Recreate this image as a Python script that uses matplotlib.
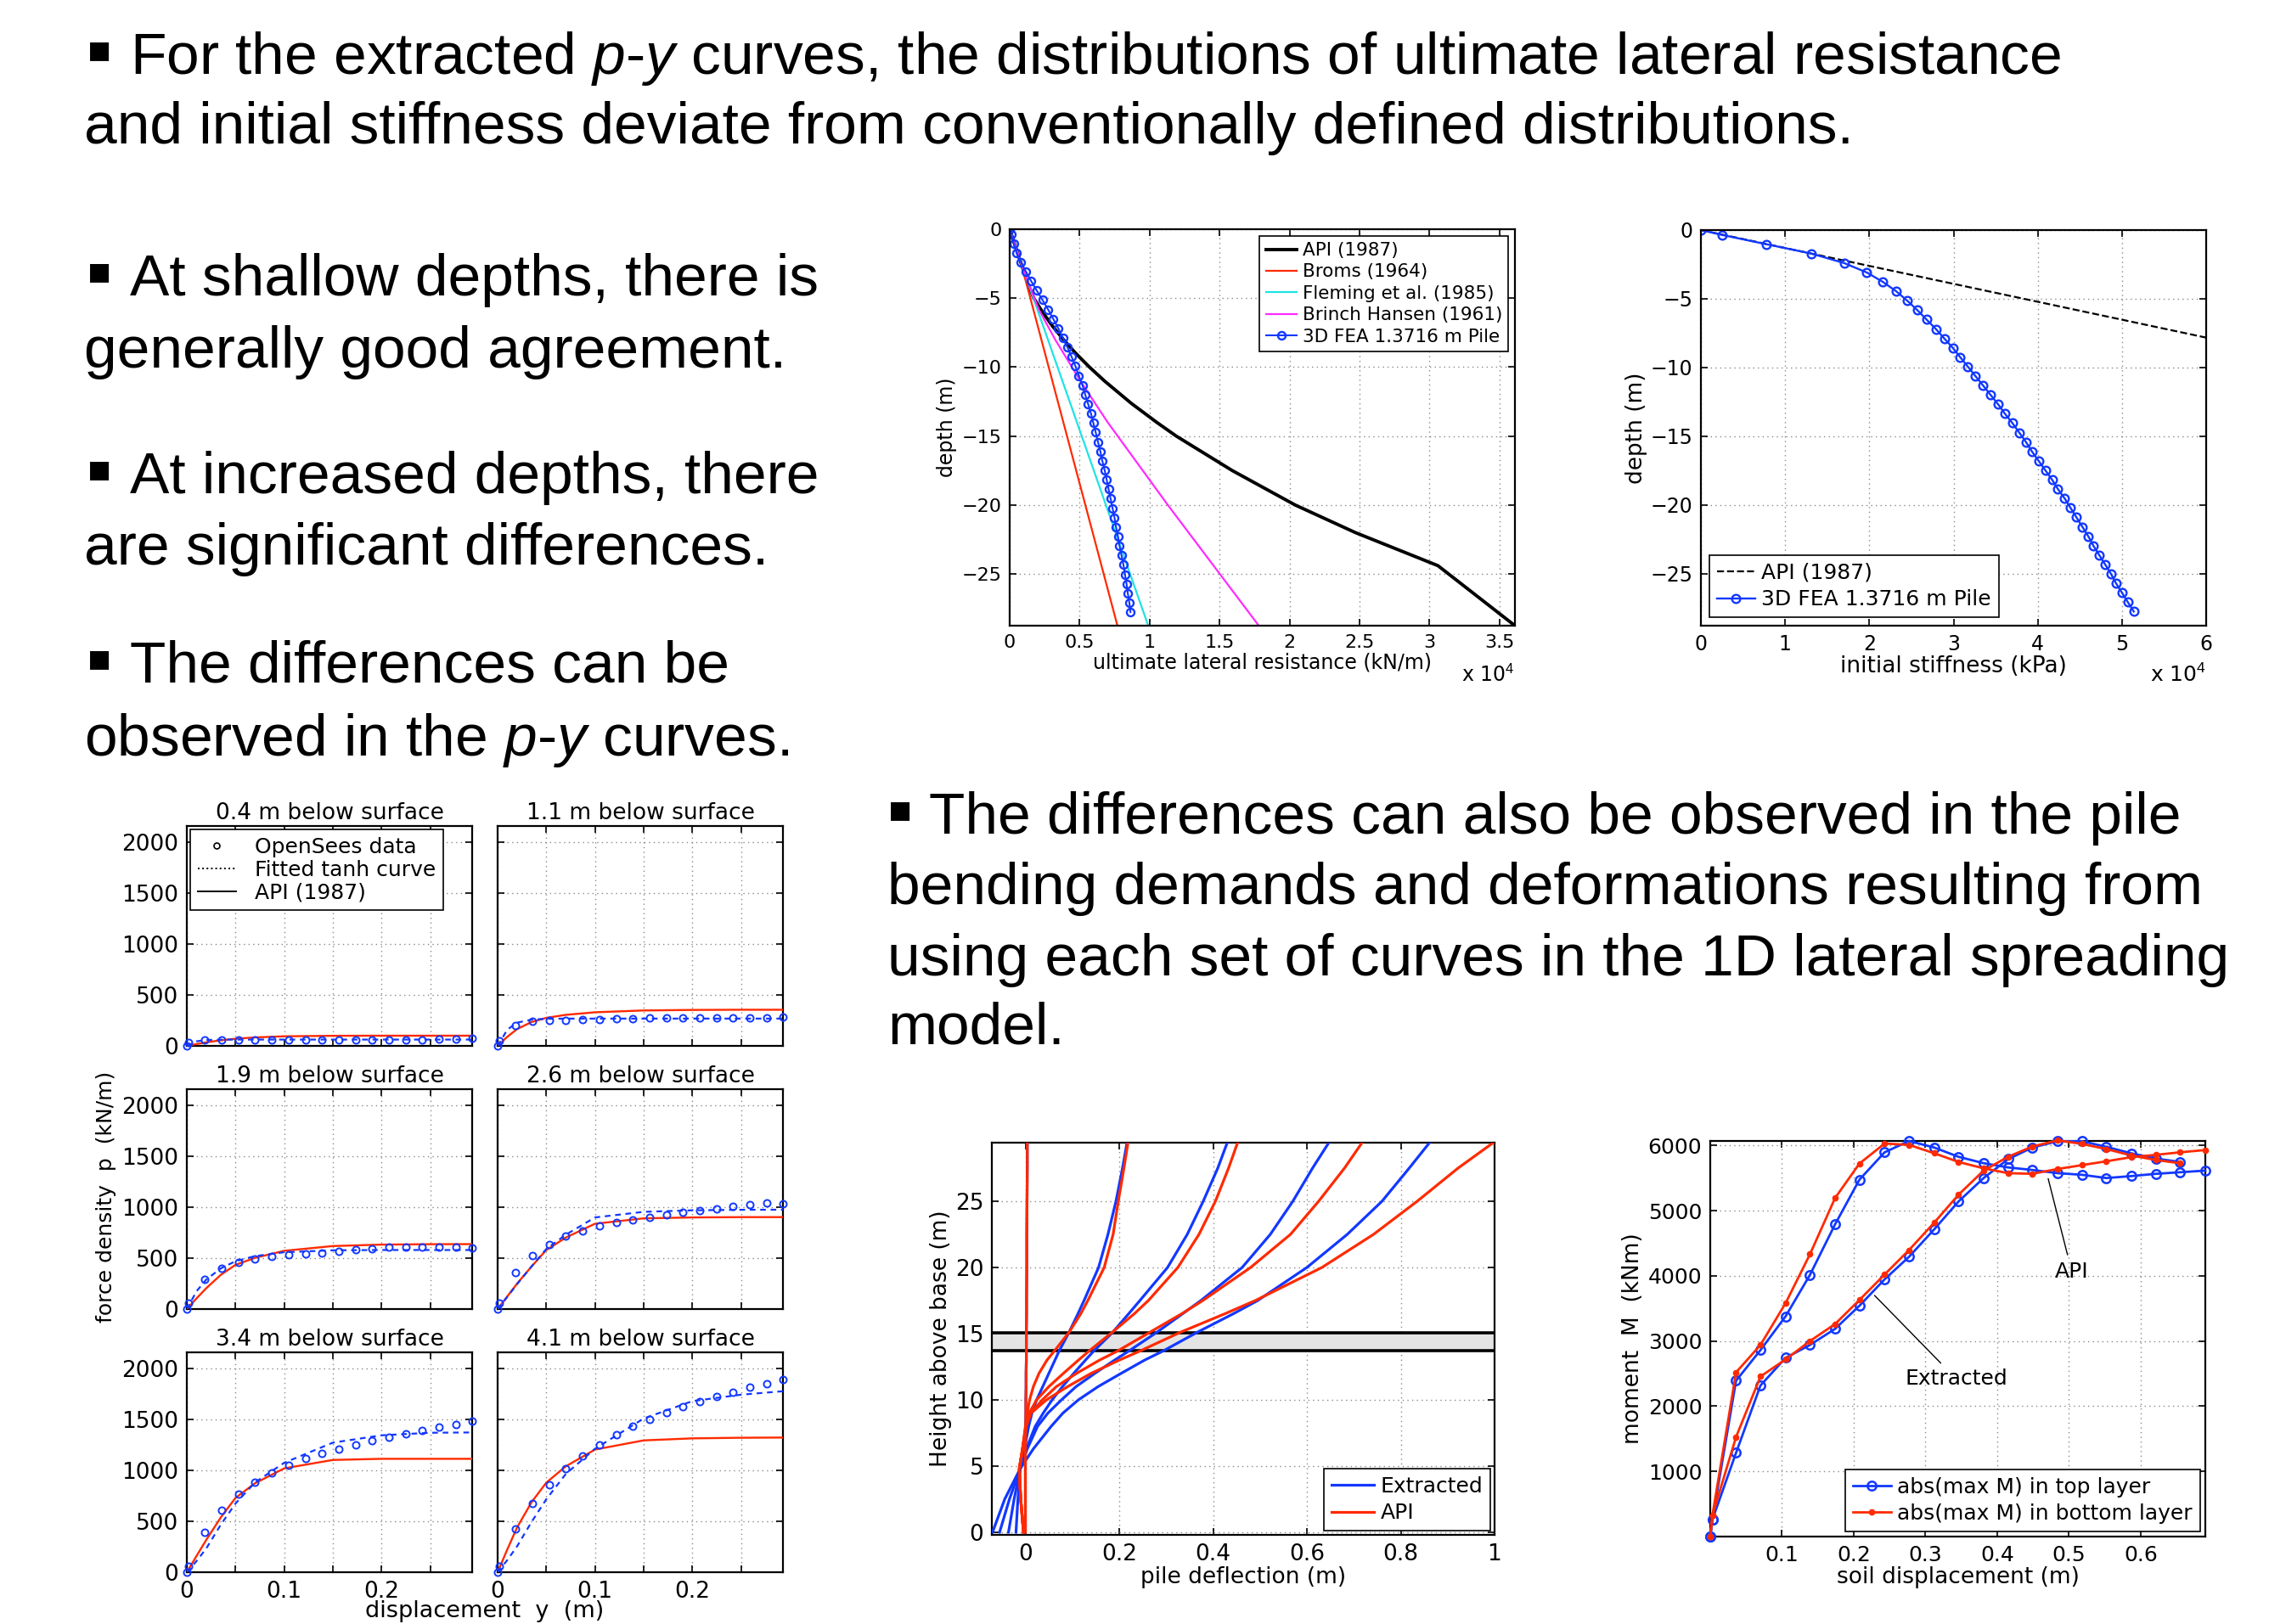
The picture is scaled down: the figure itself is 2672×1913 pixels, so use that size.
import matplotlib
matplotlib.use('Agg')
import matplotlib.pyplot as plt
from matplotlib.lines import Line2D
from matplotlib.ticker import FuncFormatter

plt.rcParams['font.family'] = ['DejaVu Sans']
plt.rcParams['mathtext.fontset'] = 'custom'
plt.rcParams['mathtext.rm'] = 'Liberation Sans'
plt.rcParams['mathtext.it'] = 'Liberation Sans:italic'

# ---------------- data ----------------
# ultimate lateral resistance vs depth (kN/m, m)
fea_depth = [0, -0.35, -1.03, -1.71, -2.40, -3.09, -3.77, -4.46, -5.14, -5.83, -6.52, -7.20, -7.89, -8.57,
             -9.26, -9.94, -10.63, -11.31, -12.00, -12.69, -13.37, -14.06, -14.74, -15.43, -16.11, -16.80,
             -17.49, -18.17, -18.86, -19.54, -20.23, -20.92, -21.60, -22.29, -22.97, -23.66, -24.34, -25.03,
             -25.72, -26.40, -27.09, -27.77]
fea_pult = [0, 120, 280, 490, 810, 1170, 1540, 1940, 2350, 2750, 3120, 3480, 3810, 4130, 4430, 4700, 4940,
            5200, 5400, 5610, 5810, 5980, 6150, 6310, 6480, 6620, 6790, 6930, 7070, 7210, 7350, 7490, 7600,
            7740, 7850, 7990, 8130, 8240, 8350, 8440, 8550, 8630]
api_pult_depth = [0, -2, -4, -5, -6, -7, -8, -9, -10, -11, -12.62, -14, -15, -17.5, -20, -22, -24.4, -28.75]
api_pult = [0, 660, 1320, 1720, 2340, 3040, 3840, 4720, 5700, 6770, 8680, 10500, 11900, 15900, 20400,
            24700, 30600, 36100]
broms_depth = [0, -2.38, -28.75]
broms_pult = [0, 790, 7700]
fleming_depth = [0, -2.38, -28.75]
fleming_pult = [0, 790, 9900]
hansen_depth = [0, -2.38, -4, -5.86, -8, -11, -14, -20, -28.75]
hansen_pult = [0, 790, 1370, 2100, 3250, 5050, 7000, 11300, 17800]

# initial stiffness vs depth (kPa, m)
fea_k = [0, 2480, 7760, 13100, 17000, 19700, 21600, 23200, 24500, 25700, 26800, 27900, 28900, 29900, 30800,
         31700, 32600, 33500, 34400, 35300, 36100, 37000, 37800, 38600, 39300, 40100, 40900, 41700, 42400,
         43200, 43900, 44600, 45300, 46000, 46600, 47300, 48000, 48700, 49300, 50000, 50700, 51400]
api_k_depth = [0, -7.83]
api_k = [0, 60000]

# p-y curves (m, kN/m)
py_titles = ['0.4 m below surface', '1.1 m below surface', '1.9 m below surface',
             '2.6 m below surface', '3.4 m below surface', '4.1 m below surface']
py_y_pts = [0, 0.002, 0.0187, 0.0359, 0.053, 0.070, 0.0874, 0.1046, 0.1217, 0.1389, 0.156, 0.1732,
            0.1904, 0.2075, 0.2247, 0.2418, 0.259, 0.2762, 0.2933]
py_y_curve = [0, 0.01, 0.02, 0.035, 0.05, 0.07, 0.1, 0.15, 0.2, 0.25, 0.293]
opensees_04 = [0, 35, 62, 58, 60, 60, 62, 62, 62, 62, 62, 62, 62, 62, 62, 62, 64, 68, 72]
fit_04 = [0, 45, 58, 61, 62, 62, 62, 62, 62, 62, 62]
api_04 = [0, 18, 35, 55, 70, 83, 94, 99, 100, 100, 100]
opensees_11 = [0, 53, 200, 243, 249, 254, 260, 262, 266, 268, 272, 275, 278, 278, 275, 275, 275, 278, 284]
fit_11 = [0, 160, 228, 258, 266, 268, 268, 268, 268, 268, 268]
api_11 = [0, 90, 165, 235, 275, 305, 330, 348, 353, 355, 355]
opensees_19 = [0, 55, 296, 403, 461, 494, 514, 533, 544, 552, 569, 580, 591, 605, 610, 610, 608, 605, 602]
fit_19 = [0, 175, 290, 400, 470, 520, 558, 577, 580, 580, 580]
api_19 = [0, 105, 205, 337, 434, 503, 572, 619, 633, 637, 638]
opensees_26 = [0, 55, 356, 522, 633, 716, 770, 818, 853, 876, 903, 926, 950, 968, 988, 1009, 1029, 1041, 1038]
fit_26 = [0, 120, 245, 420, 590, 730, 900, 955, 970, 975, 976]
api_26 = [0, 125, 250, 420, 580, 702, 838, 891, 900, 903, 903]
opensees_34 = [0, 61, 394, 606, 764, 882, 973, 1053, 1116, 1166, 1213, 1254, 1293, 1326, 1359, 1389, 1422, 1453, 1483]
fit_34 = [0, 110, 234, 469, 675, 882, 1075, 1273, 1345, 1370, 1373]
api_34 = [0, 160, 318, 540, 730, 874, 1020, 1103, 1114, 1114, 1114]
opensees_41 = [0, 61, 427, 675, 862, 1014, 1144, 1254, 1351, 1433, 1502, 1566, 1626, 1676, 1723, 1770, 1814, 1852, 1894]
fit_41 = [0, 120, 255, 496, 717, 965, 1213, 1510, 1681, 1744, 1778]
api_41 = [0, 225, 440, 690, 880, 1040, 1205, 1295, 1315, 1321, 1323]

# pile deflection profiles (height above base m, deflection m)
pile_h = [0, 2.5, 4.8, 6.3, 8, 9, 10, 11, 12, 13, 13.7, 15.1, 16.5, 17.5, 20, 22.5, 25, 27.5, 29.5]
ext_0 = [0, 0, 0, 0, 0.0005, 0.001, 0.001, 0.0015, 0.0015, 0.002, 0.002, 0.002, 0.0025, 0.0025, 0.003, 0.003, 0.0035, 0.004, 0.004]
api_0 = [0, 0, 0, 0, 0.0005, 0.001, 0.001, 0.0015, 0.0015, 0.002, 0.002, 0.002, 0.0025, 0.0025, 0.003, 0.003, 0.0035, 0.004, 0.004]
ext_1 = [-0.02, -0.016, -0.011, -0.002, 0.007, 0.014, 0.024, 0.037, 0.05, 0.063, 0.072, 0.093, 0.112, 0.125, 0.156, 0.176, 0.193, 0.207, 0.217]
api_1 = [-0.004, -0.01, -0.013, -0.006, 0.001, 0.004, 0.009, 0.017, 0.029, 0.046, 0.062, 0.093, 0.118, 0.133, 0.168, 0.187, 0.198, 0.21, 0.219]
ext_2 = [-0.036, -0.024, -0.011, 0.002, 0.021, 0.038, 0.057, 0.079, 0.103, 0.128, 0.146, 0.186, 0.22, 0.244, 0.303, 0.345, 0.379, 0.41, 0.431]
api_2 = [-0.004, -0.01, -0.013, -0.006, 0.001, 0.008, 0.024, 0.05, 0.081, 0.113, 0.136, 0.185, 0.232, 0.262, 0.325, 0.37, 0.405, 0.433, 0.453]
ext_3 = [-0.055, -0.034, -0.011, 0.004, 0.026, 0.048, 0.077, 0.108, 0.148, 0.19, 0.221, 0.28, 0.335, 0.374, 0.462, 0.522, 0.57, 0.612, 0.648]
api_3 = [-0.004, -0.01, -0.013, -0.006, 0.002, 0.012, 0.036, 0.066, 0.109, 0.158, 0.197, 0.265, 0.333, 0.378, 0.48, 0.565, 0.625, 0.68, 0.719]
ext_4 = [-0.07, -0.044, -0.011, 0.017, 0.055, 0.08, 0.113, 0.155, 0.204, 0.254, 0.294, 0.366, 0.443, 0.495, 0.6, 0.686, 0.76, 0.818, 0.863]
api_4 = [-0.004, -0.01, -0.013, -0.006, 0.0, 0.012, 0.045, 0.09, 0.14, 0.2, 0.245, 0.33, 0.425, 0.49, 0.632, 0.742, 0.835, 0.922, 1.0]
crust_band = [13.74, 15.08]

# max moment vs soil displacement (m, kNm)
soil_disp = [0.0, 0.003, 0.036, 0.070, 0.105, 0.139, 0.174, 0.208, 0.243, 0.277, 0.312, 0.346, 0.381,
             0.415, 0.449, 0.484, 0.518, 0.552, 0.587, 0.621, 0.655, 0.690]
m_api_top = [0, 260, 2392, 2861, 3379, 4016, 4791, 5477, 5896, 6069, 5970, 5827, 5729, 5664, 5625, 5576,
             5551, 5501, 5531, 5566, 5590, 5615]
m_api_bot = [0, 324, 2520, 2940, 3581, 4332, 5195, 5724, 6030, 6010, 5882, 5748, 5650, 5576, 5566, 5640,
             5699, 5758, 5822, 5857, 5896, 5931]
m_ext_top = [0, 260, 1286, 2318, 2742, 2940, 3187, 3542, 3947, 4292, 4712, 5141, 5501, 5790, 5970, 6065,
             6065, 5980, 5880, 5800, 5748]
m_ext_bot = [0, 324, 1528, 2456, 2718, 3000, 3261, 3631, 4021, 4396, 4815, 5245, 5615, 5827, 5985, 6079,
             6025, 5946, 5847, 5778, 5728]

BLUE = '#1238ff'
RED = '#ff2a00'
W, H = 2672, 1913
SLIDE = ['Liberation Sans', 'DejaVu Sans']

fig = plt.figure(figsize=(W / 100, H / 100), dpi=100)


def new_axes(left, top, right, bottom, fs):
    ax = fig.add_axes([left / W, 1 - bottom / H, (right - left) / W, (bottom - top) / H])
    ax.tick_params(direction='in', top=True, right=True, length=6, width=1.2, labelsize=fs, pad=7)
    ax.grid(True, linestyle=(0, (1, 3)), color='#8a8a8a', linewidth=1.0)
    ax.set_axisbelow(True)
    for sp in ax.spines.values():
        sp.set_linewidth(1.6)
    return ax


def boxed_legend(ax, **kw):
    opts = dict(fancybox=False, framealpha=1, edgecolor='k', borderpad=0.35,
                labelspacing=0.3, handletextpad=0.3, borderaxespad=0.4)
    opts.update(kw)
    leg = ax.legend(**opts)
    leg.get_frame().set_linewidth(1.2)
    return leg


e4 = FuncFormatter(lambda v, p: '%g' % (v / 1e4))

# ---------------- slide text ----------------
def bullet(x, y):
    fig.text(x / W, 1 - y / H, '\u25aa', fontsize=32, family='DejaVu Sans', va='baseline')


def line(x, y, s):
    fig.text(x / W, 1 - y / H, s, fontsize=50, family=SLIDE, va='baseline')


bullet(102, 71)
line(153, 87, 'For the extracted $p$-$y$ curves, the distributions of ultimate lateral resistance')
line(99, 169, 'and initial stiffness deviate from conventionally defined distributions.')
bullet(102, 332)
line(153, 348, 'At shallow depths, there is')
line(99, 433, 'generally good agreement.')
bullet(102, 565)
line(153, 581, 'At increased depths, there')
line(99, 665, 'are significant differences.')
bullet(102, 788)
line(153, 804, 'The differences can be')
line(99, 890, 'observed in the $p$-$y$ curves.')
bullet(1045, 966)
line(1094, 982, 'The differences can also be observed in the pile')
line(1045, 1065, 'bending demands and deformations resulting from')
line(1045, 1149, 'using each set of curves in the 1D lateral spreading')
line(1045, 1230, 'model.')

# ---------------- ultimate lateral resistance ----------------
ax1 = new_axes(1189, 270, 1784, 737, 16)
ax1.plot(api_pult, api_pult_depth, color='k', lw=2.8, label='API (1987)')
ax1.plot(broms_pult, broms_depth, color=RED, lw=1.6, label='Broms (1964)')
ax1.plot(fleming_pult, fleming_depth, color='#1fe3e3', lw=1.6, label='Fleming et al. (1985)')
ax1.plot(hansen_pult, hansen_depth, color='#ff2bff', lw=1.6, label='Brinch Hansen (1961)')
ax1.plot(fea_pult, fea_depth, '-o', color=BLUE, mfc='none', ms=6.5, mew=1.7, lw=1.5,
         label='3D FEA 1.3716 m Pile')
ax1.set_xlim(0, 36100)
ax1.set_ylim(-28.75, 0)
ax1.set_xticks(range(0, 35001, 5000))
ax1.xaxis.set_major_formatter(e4)
ax1.set_yticks([-25, -20, -15, -10, -5, 0])
ax1.set_ylabel('depth (m)', fontsize=17, labelpad=4)
ax1.set_xlabel('ultimate lateral resistance (kN/m)', fontsize=17, labelpad=1)
ax1.text(1.0, -0.125, 'x 10$^4$', transform=ax1.transAxes, ha='right', va='center', fontsize=17)
boxed_legend(ax1, borderaxespad=0.35, labelspacing=0.25, loc='upper right', fontsize=15.5,
             handlelength=1.7)

# ---------------- initial stiffness ----------------
ax2 = new_axes(2003, 271, 2598, 737, 17)
ax2.plot(api_k, api_k_depth, '--', color='k', lw=1.6, label='API (1987)')
ax2.plot(fea_k, fea_depth, '-o', color=BLUE, mfc='none', ms=7, mew=1.7, lw=1.7,
         label='3D FEA 1.3716 m Pile')
ax2.set_xlim(0, 60000)
ax2.set_ylim(-28.8, 0)
ax2.set_xticks(range(0, 60001, 10000))
ax2.xaxis.set_major_formatter(e4)
ax2.set_yticks([-25, -20, -15, -10, -5, 0])
ax2.set_ylabel('depth (m)', fontsize=19, labelpad=2)
ax2.set_xlabel('initial stiffness (kPa)', fontsize=19, labelpad=1)
ax2.text(1.0, -0.125, 'x 10$^4$', transform=ax2.transAxes, ha='right', va='center', fontsize=18)
boxed_legend(ax2, loc='lower left', fontsize=18, handlelength=1.8)

# ---------------- p-y curves ----------------
cols = [(220, 556), (586, 922)]
rows = [(973, 1232), (1283, 1542), (1593, 1852)]
py_sets = [(opensees_04, fit_04, api_04), (opensees_11, fit_11, api_11), (opensees_19, fit_19, api_19),
           (opensees_26, fit_26, api_26), (opensees_34, fit_34, api_34), (opensees_41, fit_41, api_41)]
for i, (pts, fit, api) in enumerate(py_sets):
    r, c = divmod(i, 2)
    ax = new_axes(cols[c][0], rows[r][0], cols[c][1], rows[r][1], 19)
    ax.plot(py_y_curve, api, color=RED, lw=1.7, zorder=3)
    ax.plot(py_y_curve, fit, color=BLUE, lw=1.6, dashes=(3, 2.5), zorder=4)
    ax.plot(py_y_pts, pts, 'o', mfc='none', mec=BLUE, ms=5.8, mew=1.4, zorder=5, clip_on=False)
    ax.set_xlim(0, 0.293)
    ax.set_ylim(0, 2160)
    ax.set_xticks([0, 0.05, 0.1, 0.15, 0.2, 0.25])
    ax.set_yticks([0, 500, 1000, 1500, 2000])
    if r == 2:
        ax.set_xticklabels(['0', '', '0.1', '', '0.2', ''])
    else:
        ax.set_xticklabels([])
    if c == 1:
        ax.set_yticklabels([])
    ax.set_title(py_titles[i], fontsize=19, pad=6)
    if i == 0:
        handles = [Line2D([], [], marker='o', ls='none', mfc='none', mec='k', ms=5, mew=1.2),
                   Line2D([], [], ls=':', color='k', lw=1.4),
                   Line2D([], [], ls='-', color='k', lw=1.4)]
        boxed_legend(ax, borderaxespad=0.15, labelspacing=0.12, handles=handles,
                     labels=['OpenSees data', 'Fitted tanh curve', 'API (1987)'],
                     loc='upper left', fontsize=18, handlelength=1.8, handletextpad=0.9)
fig.text(125 / W, 1 - 1410 / H, 'force density  p  (kN/m)', rotation=90, fontsize=18,
         ha='center', va='center')
fig.text(571 / W, 1 - 1898 / H, 'displacement  y  (m)', fontsize=19.5, ha='center', va='center')

# ---------------- pile deflection ----------------
ax5 = new_axes(1168, 1346, 1760, 1808, 19)
ax5.axhspan(crust_band[0], crust_band[1], color='#e4e4e4', zorder=1)
for hb in crust_band:
    ax5.axhline(hb, color='k', lw=2.6, zorder=2)
for ext in [ext_0, ext_1, ext_2, ext_3, ext_4]:
    ax5.plot(ext, pile_h, color=BLUE, lw=2.3, zorder=3)
for api in [api_0, api_1, api_2, api_3, api_4]:
    ax5.plot(api, pile_h, color=RED, lw=2.3, zorder=4)
ax5.set_xlim(-0.0715, 1.0)
ax5.set_ylim(-0.2, 29.43)
ax5.set_xticks([0, 0.2, 0.4, 0.6, 0.8, 1.0])
ax5.xaxis.set_major_formatter(FuncFormatter(lambda v, p: '%g' % round(v, 1)))
ax5.set_yticks([0, 5, 10, 15, 20, 25])
ax5.set_ylabel('Height above base (m)', fontsize=19, labelpad=3)
ax5.set_xlabel('pile deflection (m)', fontsize=19, labelpad=1)
boxed_legend(ax5, borderaxespad=0.2,
             handles=[Line2D([], [], color=BLUE, lw=2.3), Line2D([], [], color=RED, lw=2.3)],
             labels=['Extracted', 'API'], loc='lower right', fontsize=18, handlelength=2.0)

# ---------------- max moment ----------------
ax6 = new_axes(2014, 1344, 2597, 1810, 18)
n_ext = len(m_ext_top)
ax6.plot(soil_disp, m_api_top, '-o', color=BLUE, mfc='none', ms=7.5, mew=1.8, lw=2.0, zorder=3,
         clip_on=False)
ax6.plot(soil_disp[:n_ext], m_ext_top, '-o', color=BLUE, mfc='none', ms=7.5, mew=1.8, lw=2.0, zorder=3,
         clip_on=False)
ax6.plot(soil_disp, m_api_bot, '-o', color=RED, ms=4.5, lw=2.0, zorder=4, clip_on=False)
ax6.plot(soil_disp[:n_ext], m_ext_bot, '-o', color=RED, ms=4.5, lw=2.0, zorder=4, clip_on=False)
ax6.set_xlim(0, 0.69)
ax6.set_ylim(0, 6070)
ax6.set_xticks([0.1, 0.2, 0.3, 0.4, 0.5, 0.6])
ax6.set_yticks([1000, 2000, 3000, 4000, 5000, 6000])
ax6.set_ylabel('moment  M  (kNm)', fontsize=19, labelpad=3)
ax6.set_xlabel('soil displacement (m)', fontsize=19, labelpad=1)
ax6.annotate('API', xy=(0.471, 5492), xytext=(0.504, 4060), fontsize=18, ha='center', va='center',
             arrowprops=dict(arrowstyle='-', color='k', lw=1.0, shrinkA=4, shrinkB=0))
ax6.annotate('Extracted', xy=(0.229, 3700), xytext=(0.343, 2417), fontsize=18, ha='center', va='center',
             arrowprops=dict(arrowstyle='-', color='k', lw=1.0, shrinkA=4, shrinkB=0))
boxed_legend(ax6, borderaxespad=0.25,
             handles=[Line2D([], [], marker='o', color=BLUE, mfc='none', ms=7.5, mew=1.8, lw=2.0),
                      Line2D([], [], marker='o', color=RED, ms=4.5, lw=2.0)],
             labels=['abs(max M) in top layer', 'abs(max M) in bottom layer'], loc='lower right',
             fontsize=18, handlelength=1.8)

fig.savefig('out.png', dpi=100)
